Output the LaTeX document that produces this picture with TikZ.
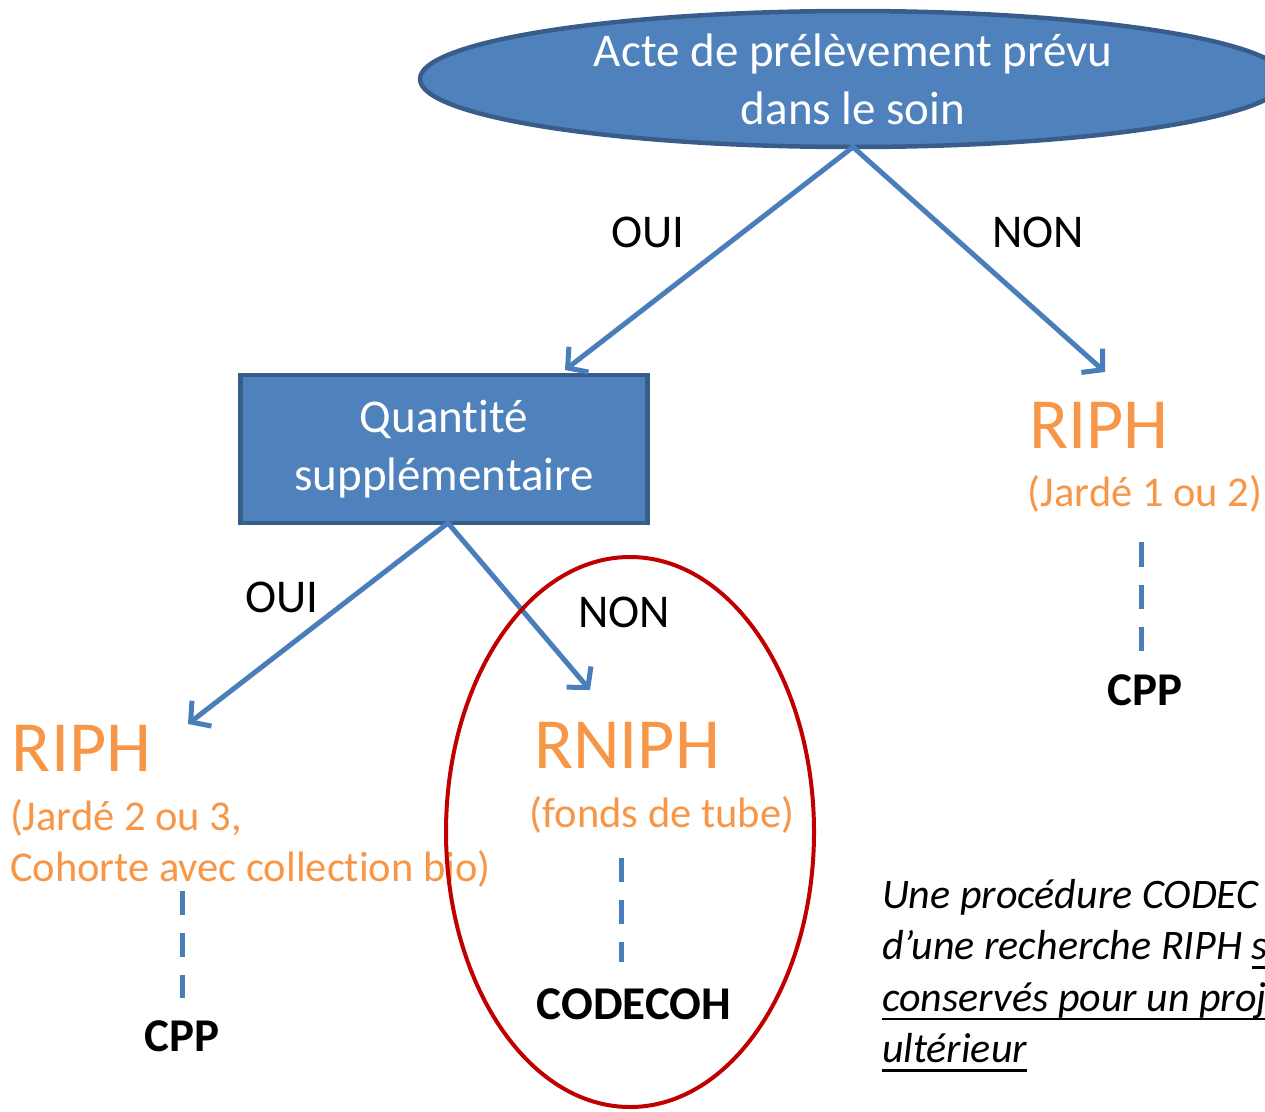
\documentclass[tikz,border=0pt]{standalone}
\usepackage{fontspec}
\setmainfont{Carlito}[Ligatures=NoCommon]
\usetikzlibrary{shapes.geometric,arrows.meta}

\definecolor{boxblue}{HTML}{4F81BD}
\definecolor{boxedge}{HTML}{385D8A}
\definecolor{linkblue}{HTML}{4A7EBB}
\definecolor{riphorange}{HTML}{F79646}
\definecolor{ringred}{HTML}{C00000}

\newcommand\undertext[1]{\leavevmode\setbox0\hbox{#1}\rlap{\rule[-9pt]{\wd0}{2.5pt}}\box0}

\begin{document}
\begin{tikzpicture}[x=1pt,y=-1pt,
	every node/.style={inner sep=0pt,outer sep=0pt},
	question/.style={fill=boxblue,draw=boxedge,line width=4.5pt,text=white,align=center,font=\fontsize{47}{58}\selectfont},
	answer/.style={font=\fontsize{47}{56}\selectfont},
	regime/.style={text=riphorange,font=\fontsize{72}{86}\selectfont},
	detail/.style={text=riphorange,align=left,font=\fontsize{42.5}{51}\selectfont},
	board/.style={font=\bfseries\fontsize{47}{56}\selectfont},
	link/.style={draw=linkblue,line width=5pt,line cap=round,-{Straight Barb[length=14pt,width=32pt]}},
	tie/.style={draw=linkblue,line width=5pt,dash pattern=on 24pt off 18pt}]
	\useasboundingbox (0,0) rectangle (1265,1111);
	\clip (0,0) rectangle (1265,1111);

	\node[question,ellipse,minimum width=866,minimum height=136] (acte) at (853,79) {Acte de prélèvement prévu\\dans le soin};
	\node[question,minimum width=407,minimum height=148] (qty) at (444,449) {Quantité\\supplémentaire};

	\coordinate (qtyin) at (565,370);
	\coordinate (riphin) at (1105,372);
	\coordinate (lowin) at (188,724);
	\coordinate (tubein) at (590,690);
	\draw[link] (acte.south) -- (qtyin);
	\draw[link] (acte.south) -- (riphin);
	\draw[link] ([xshift=4]qty.south) -- (lowin);
	\draw[link] ([xshift=4]qty.south) -- (tubein);

	\node[answer] (oui1) at (648,232) {OUI};
	\node[answer] (non1) at (1038,232) {NON};
	\node[answer] (oui2) at (282,597) {OUI};
	\node[answer] (non2) at (624,612) {NON};

	\node[regime] (riphR) at (1099,425) {RIPH};
	\node[detail] (jardeR) at (1145,494) {(Jardé 1 ou 2)};
	\node[board] (cppR) at (1145,690) {CPP};
	\coordinate (cppRtop) at (1141,651);
	\draw[tie,shorten <=30pt] (jardeR.south -| cppRtop) -- (cppRtop);

	\node[regime,anchor=west] (riphL) at (12,748) {RIPH};
	\node[detail,anchor=west] (jardeL) at (10,843) {(Jardé 2 ou 3,\\Cohorte avec collection bio)};
	\node[board] (cppL) at (182,1036) {CPP};
	\coordinate (cppLtop) at (182,998);
	\draw[tie,shorten <=4pt] (jardeL.south -| cppLtop) -- (cppLtop);

	\node[regime] (rniph) at (627,745) {RNIPH};
	\node[detail] (fonds) at (662,815) {(fonds de tube)};
	\node[board] (codecoh) at (634,1004) {CODECOH};
	\coordinate (codecohtop) at (621,962);
	\draw[tie,shorten <=24pt] (fonds.south -| codecohtop) -- (codecohtop);

	\node[draw=ringred,line width=4pt,ellipse,minimum width=368,minimum height=550] (ring) at (630,832) {};

	\node[anchor=north west,align=left,font=\itshape\fontsize{42}{51.5}\selectfont] (remark) at (882,879)
	{Une procédure CODEC\\d’une recherche RIPH \undertext{s}\\\undertext{conservés pour un proj}\\\undertext{ultérieur}};
\end{tikzpicture}
\end{document}
